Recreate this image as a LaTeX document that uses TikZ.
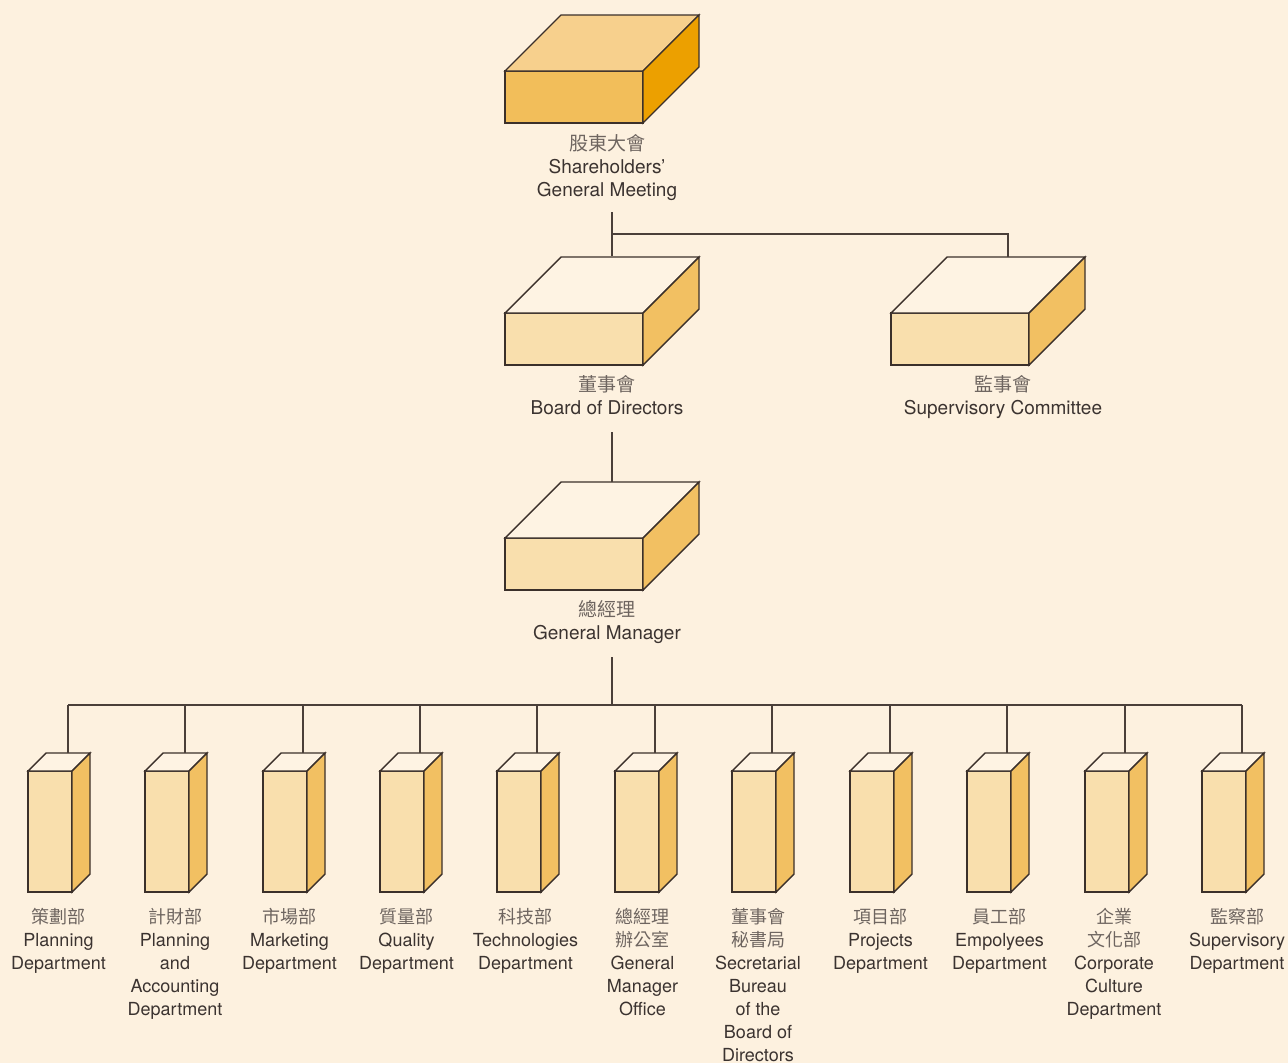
\documentclass[tikz,border=0pt]{standalone}
\usepackage{fontspec}
\setmainfont{TeX Gyre Heros}
\newfontfamily\cjk{Noto Sans CJK TC}
\definecolor{bgc}{HTML}{FDF1DF}
\definecolor{lnc}{HTML}{4A3F39}
\definecolor{outc}{HTML}{3B302A}
\definecolor{txc}{HTML}{3B3330}
\definecolor{cjc}{HTML}{6E6560}
\definecolor{shtop}{HTML}{F7D08D}
\definecolor{shfront}{HTML}{F2BE5A}
\definecolor{shside}{HTML}{ECA000}
\definecolor{bxtop}{HTML}{FEF3E3}
\definecolor{bxfront}{HTML}{F9DFAD}
\definecolor{bxside}{HTML}{F2C062}
\tikzset{
  outl/.style={draw=outc, line width=1.4pt, line join=miter},
  frontface/.style={outl, inner sep=0pt, outer sep=0pt, anchor=north west},
  conn/.style={draw=lnc, line width=1.4pt},
  lbl/.style={align=center, inner sep=0pt, text=txc, font=\fontsize{18}{23}\selectfont, anchor=north},
  biglbl/.style={lbl, font=\fontsize{19}{23}\selectfont}
}
\newcommand\bigbox[6]{%
  \node[frontface, fill=#5, minimum width=138pt, minimum height=52pt] (#1) at (#2,#3) {};
  \filldraw[outl, fill=#4] (#1.north west) -- ++(56,-56) -- ++(138,0) -- (#1.north east) -- cycle;
  \filldraw[outl, fill=#6] (#1.north east) -- ++(56,-56) -- ++(0,52) -- (#1.south east) -- cycle;
}
\newcommand\colbox[3]{%
  \node[frontface, fill=bxfront, minimum width=44pt, minimum height=121pt] (#1) at (#2,#3) {};
  \filldraw[outl, fill=bxtop] (#1.north west) -- ++(18,-18) -- ++(44,0) -- (#1.north east) -- cycle;
  \filldraw[outl, fill=bxside] (#1.north east) -- ++(18,-18) -- ++(0,121) -- (#1.south east) -- cycle;
}
\newcommand\cj[1]{{\cjk\color{cjc}#1}}
\begin{document}
\begin{tikzpicture}[x=1pt,y=-1pt]
\fill[bgc] (0,0) rectangle (1288,1063);
\useasboundingbox (0,0) rectangle (1288,1063);

% top level boxes
\bigbox{sh}{505}{71}{shtop}{shfront}{shside}
\bigbox{bd}{505}{313}{bxtop}{bxfront}{bxside}
\bigbox{sc}{891}{313}{bxtop}{bxfront}{bxside}
\bigbox{gm}{505}{538}{bxtop}{bxfront}{bxside}

\node[biglbl] (shl) at (607,134) {\cj{股東大會}\\Shareholders’\\General Meeting};
\node[biglbl] (bdl) at (607,375) {\cj{董事會}\\Board of Directors};
\node[biglbl] (scl) at (1003,375) {\cj{監事會}\\Supervisory Committee};
\node[biglbl] (gml) at (607,600) {\cj{總經理}\\General Manager};

\coordinate (j1) at (612,234);
\coordinate (bdtop) at (612,256);
\coordinate (sctop) at (1008,257);
\coordinate (gmtop) at (612,482);
\coordinate (j2) at (612,705);

\draw[conn] (612,212) -- (bdtop);
\draw[conn] (j1) -| (sctop);
\draw[conn] (612,432) -- (gmtop);
\draw[conn] (612,657) -- (j2);
\draw[conn] (68,705) -- (1242,705);

% columns
\foreach \cx [count=\n from 0] in {68,185,303,420,537,655,772,890,1007,1125,1242}{
  \colbox{c\n}{\cx-40}{771}
  \coordinate (ct\n) at (\cx,753);
  \draw[conn] (\cx,705) -- (ct\n);
}

\node[lbl] (l0) at (58.5,908) {\cj{策劃部}\\Planning\\Department};
\node[lbl] (l1) at (175,908) {\cj{計財部}\\Planning\\and\\Accounting\\Department};
\node[lbl] (l2) at (289.5,908) {\cj{市場部}\\Marketing\\Department};
\node[lbl] (l3) at (406.5,908) {\cj{質量部}\\Quality\\Department};
\node[lbl] (l4) at (525.5,908) {\cj{科技部}\\Technologies\\Department};
\node[lbl] (l5) at (642.5,908) {\cj{總經理}\\\cj{辦公室}\\General\\Manager\\Office};
\node[lbl] (l6) at (758,908) {\cj{董事會}\\\cj{秘書局}\\Secretarial\\Bureau\\of the\\Board of\\Directors};
\node[lbl] (l7) at (880.5,908) {\cj{項目部}\\Projects\\Department};
\node[lbl] (l8) at (999.5,908) {\cj{員工部}\\Empolyees\\Department};
\node[lbl] (l9) at (1114,908) {\cj{企業}\\\cj{文化部}\\Corporate\\Culture\\Department};
\node[lbl] (l10) at (1237,908) {\cj{監察部}\\Supervisory\\Department};
\end{tikzpicture}
\end{document}
